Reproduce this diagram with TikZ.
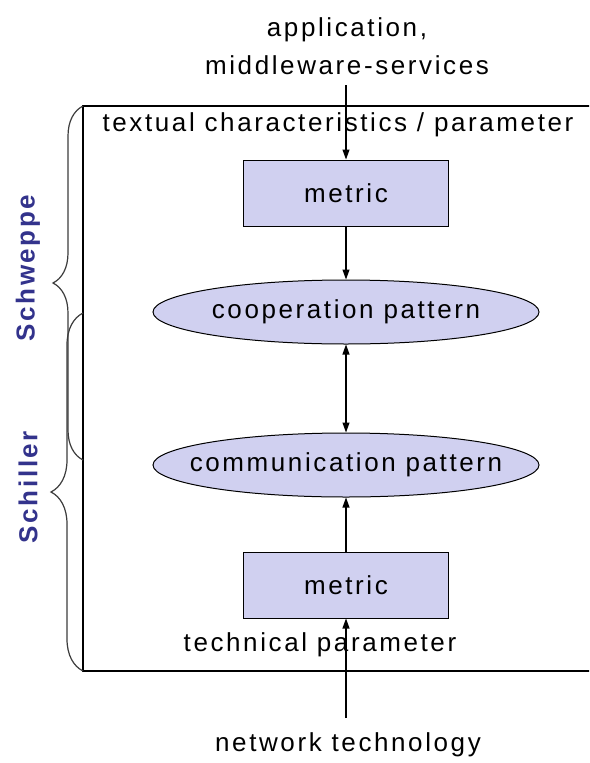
\documentclass[tikz,border=0pt]{standalone}
\usepackage{fontspec}
\setmainfont[LetterSpace=10]{Liberation Sans}
\usetikzlibrary{shapes.geometric,arrows.meta,decorations.pathreplacing}
\definecolor{boxfill}{RGB}{208,208,240}
\definecolor{namecol}{RGB}{51,51,140}
\definecolor{bracecol}{RGB}{60,60,60}
\tikzset{
  txt/.style={font=\fontsize{26}{38}\selectfont, inner sep=0pt, align=center},
  metricbox/.style={draw=black, line width=1pt, fill=boxfill, minimum width=205pt, minimum height=66pt, inner sep=0pt, font=\fontsize{26}{30}\selectfont},
  patt/.style={ellipse, draw=black, line width=1pt, fill=boxfill, minimum width=386pt, minimum height=64pt, inner sep=0pt, font=\fontsize{26}{30}\selectfont},
  conn/.style={line width=1.1pt, -{Triangle[length=10pt,width=7pt]}},
  dconn/.style={line width=1.1pt, {Triangle[length=10pt,width=7pt]}-{Triangle[length=10pt,width=7pt]}},
  bracestyle/.style={draw=bracecol, line width=1.2pt, decorate, decoration={brace, amplitude=#1}},
  whoname/.style={font=\fontsize{26}{30}\bfseries\selectfont, text=namecol, rotate=90, inner sep=0pt}
}
\begin{document}
\begin{tikzpicture}[x=1pt, y=-1pt]
\useasboundingbox (0,0) rectangle (589,763);
\clip (0,0) rectangle (589,763);
\fill[white] (0,0) rectangle (589,763);
% frame
\draw[line width=1.4pt] (600,106) -- (83,106) -- (83,671) -- (600,671);
% braces
\draw[bracestyle=30pt] (83,460) -- (83,106);
\draw[bracestyle=32pt] (83,671) -- (83,313);
\node[whoname] (schweppe) at (28,268) {Schweppe};
\node[whoname] (schiller) at (28,487) {Schiller};
% texts
\node[txt] (app) at (347,46) {application,\\middleware-services};
\node[txt] (textual) at (338,125) {textual characteristics / parameter};
\node[txt] (techpar) at (320,645) {technical parameter};
\node[txt] (net) at (348,745) {network technology};
% nodes
\node[metricbox] (m1) at (346,193) {metric};
\node[patt] (coop) at (346,312) {\makebox[0pt][c]{cooperation pattern}};
\node[patt] (comm) at (346,465) {\makebox[0pt][c]{communication pattern}};
\node[metricbox] (m2) at (346,585) {metric};
\coordinate (topin) at (346,85);
\coordinate (botin) at (346,718);
% connectors
\draw[conn] (topin) -- (m1.north);
\draw[conn] (m1.south) -- (coop.north);
\draw[dconn] (coop.south) -- (comm.north);
\draw[conn] (m2.north) -- (comm.south);
\draw[conn] (botin) -- (m2.south);
\end{tikzpicture}
\end{document}
